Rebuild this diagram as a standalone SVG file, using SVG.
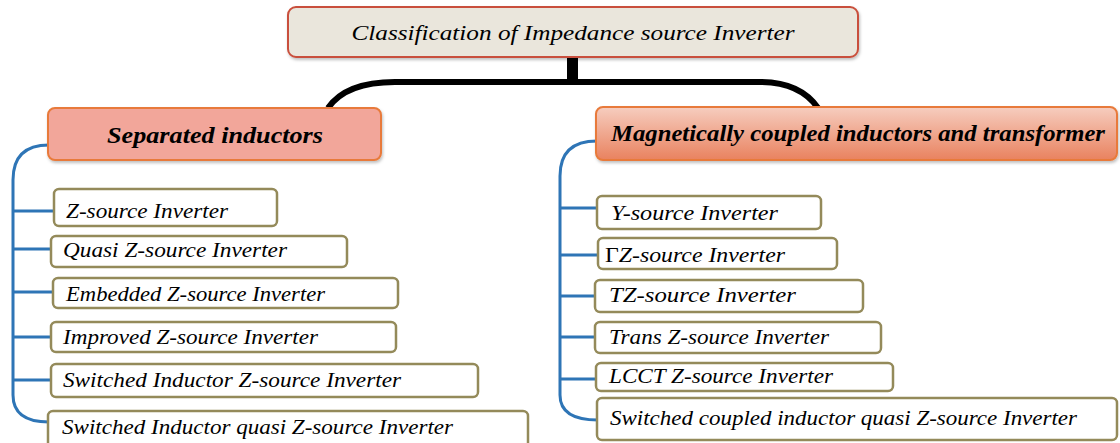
<svg xmlns="http://www.w3.org/2000/svg" width="1120" height="443" viewBox="0 0 1120 443">
<defs>
<linearGradient id="gR" x1="0" y1="0" x2="0" y2="1"><stop offset="0" stop-color="#F6CDBF"/><stop offset="1" stop-color="#E9825F"/></linearGradient>
<filter id="sh" x="-5%" y="-20%" width="110%" height="150%"><feDropShadow dx="1" dy="2" stdDeviation="1.5" flood-color="#000" flood-opacity="0.25"/></filter>
</defs>
<style>
text{font-family:"Liberation Serif","Times New Roman",serif;font-style:italic;fill:#000;}
.item{fill:#fff;stroke:#948A5A;stroke-width:2.5;}
.it{font-size:21px;}
.hd{font-size:23px;font-weight:bold;}
.blue{fill:none;stroke:#2E75B6;stroke-width:3;}
.blk{fill:none;stroke:#000;stroke-width:6;}
</style>
<rect width="1120" height="443" fill="#fff"/>
<g id="connectors">
<rect x="567" y="57" width="11" height="24" fill="#000"/>
<path class="blk" d="M328 108 Q346 82 395 82 L760 82 Q800 82 818 108"/>
<path class="blue" d="M49 145 Q13 145 13 180 L13 395 Q13 422 49 422"/>
<path class="blue" d="M13 211 H54 M13 249 H51 M13 292 H53 M13 337 H51 M13 380 H51"/>
<path class="blue" d="M597 141 Q560 141 560 176 L560 395 Q560 420 598 420"/>
<path class="blue" d="M560 208 H597 M560 255 H598 M560 296 H595 M560 337 H595 M560 379 H596"/>
</g>
<g id="title">
<rect x="288" y="7" width="570" height="50" rx="8" fill="#EAE6DC" stroke="#C9503C" stroke-width="2" filter="url(#sh)"/>
<text x="573" y="40" text-anchor="middle" style="font-size:22px" textLength="443" lengthAdjust="spacingAndGlyphs">Classification of Impedance source Inverter</text>
</g>
<g id="separated">
<rect x="48" y="108" width="333" height="52" rx="7" fill="#F2A69A" stroke="#E87A3A" stroke-width="2" filter="url(#sh)"/>
<text class="hd" x="107" y="143" textLength="216" lengthAdjust="spacingAndGlyphs">Separated inductors</text>
</g>
<g id="magnetic">
<rect x="596" y="107" width="521" height="53" rx="7" fill="url(#gR)" stroke="#E87A3A" stroke-width="2" filter="url(#sh)"/>
<text class="hd" x="611" y="141" textLength="494" lengthAdjust="spacingAndGlyphs">Magnetically coupled inductors and transformer</text>
</g>
<g id="l1"><rect class="item" x="54" y="189" width="223" height="37" rx="5"/><text class="it" x="66" y="218" textLength="162" lengthAdjust="spacingAndGlyphs">Z-source Inverter</text></g>
<g id="l2"><rect class="item" x="51" y="236" width="296" height="31" rx="5"/><text class="it" x="63" y="257" textLength="224" lengthAdjust="spacingAndGlyphs">Quasi Z-source Inverter</text></g>
<g id="l3"><rect class="item" x="53" y="278" width="345" height="30" rx="5"/><text class="it" x="66" y="301" textLength="259" lengthAdjust="spacingAndGlyphs">Embedded Z-source Inverter</text></g>
<g id="l4"><rect class="item" x="51" y="322" width="345" height="30" rx="5"/><text class="it" x="63" y="344" textLength="255" lengthAdjust="spacingAndGlyphs">Improved Z-source Inverter</text></g>
<g id="l5"><rect class="item" x="51" y="364" width="427" height="33" rx="5"/><text class="it" x="63" y="387" textLength="338" lengthAdjust="spacingAndGlyphs">Switched Inductor Z-source Inverter</text></g>
<g id="l6"><rect class="item" x="48" y="411" width="480" height="40" rx="5"/><text class="it" x="62" y="434" textLength="391" lengthAdjust="spacingAndGlyphs">Switched Inductor quasi Z-source Inverter</text></g>
<g id="r1"><rect class="item" x="597" y="196" width="224" height="33" rx="5"/><text class="it" x="611" y="220" textLength="167" lengthAdjust="spacingAndGlyphs">Y-source Inverter</text></g>
<g id="r2"><rect class="item" x="598" y="238" width="239" height="31" rx="5"/><text class="it" x="605" y="262" textLength="180" lengthAdjust="spacingAndGlyphs"><tspan style="font-style:normal">Γ</tspan>Z-source Inverter</text></g>
<g id="r3"><rect class="item" x="595" y="280" width="268" height="32" rx="5"/><text class="it" x="609" y="302" textLength="187" lengthAdjust="spacingAndGlyphs">TZ-source Inverter</text></g>
<g id="r4"><rect class="item" x="595" y="322" width="286" height="31" rx="5"/><text class="it" x="609" y="344" textLength="220" lengthAdjust="spacingAndGlyphs">Trans Z-source Inverter</text></g>
<g id="r5"><rect class="item" x="596" y="363" width="297" height="28" rx="5"/><text class="it" x="609" y="383" textLength="224" lengthAdjust="spacingAndGlyphs">LCCT Z-source Inverter</text></g>
<g id="r6"><rect class="item" x="597" y="398" width="520" height="42" rx="5"/><text class="it" x="610" y="425" textLength="467" lengthAdjust="spacingAndGlyphs">Switched coupled inductor quasi Z-source Inverter</text></g>
</svg>
